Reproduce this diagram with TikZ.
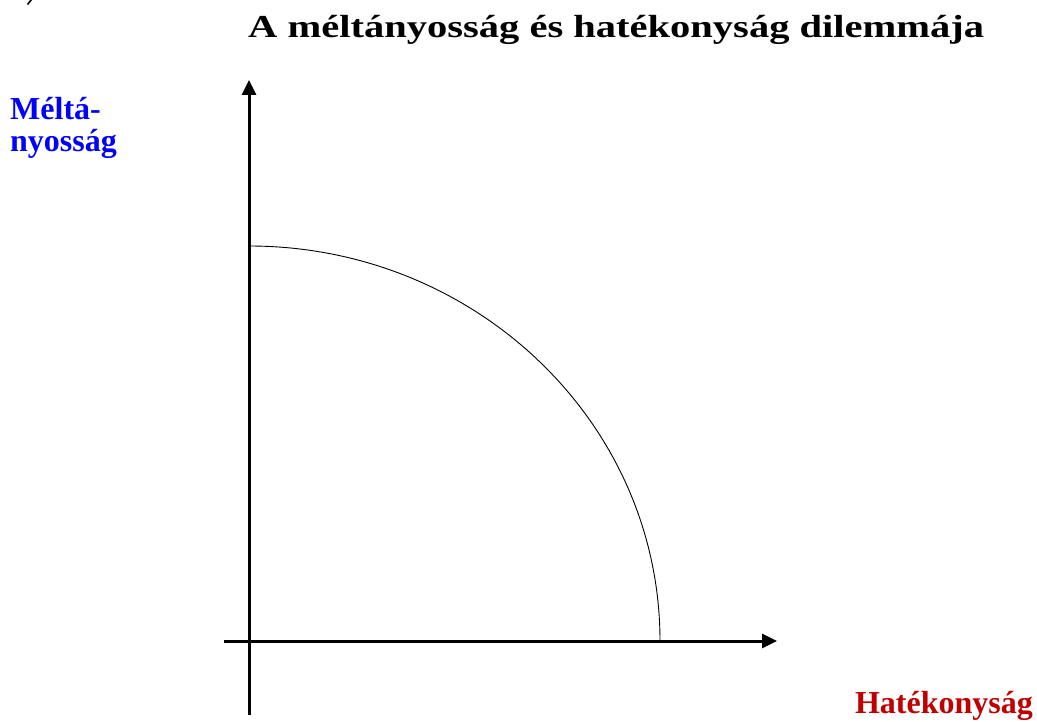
\documentclass[tikz,border=0pt]{standalone}
\usepackage{fontspec}
\setmainfont{Liberation Serif}
\usepackage{graphicx}
\usetikzlibrary{arrows.meta}
\definecolor{lblblue}{RGB}{0,0,255}
\definecolor{lblred}{RGB}{192,0,0}
\tikzset{
  axis/.style={line width=3pt, -{Triangle[length=15pt,width=14pt]}},
  curve/.style={line width=0.9pt},
  lbl/.style={inner sep=0pt, font=\fontsize{32}{36}\selectfont\bfseries},
}
\begin{document}
\begin{tikzpicture}[x=1pt,y=-1pt]
\useasboundingbox (0,0) rectangle (1037,722);
% fragment at top left
\draw[line width=1.6pt] (31.5,-0.5) -- (27.5,4.5);
% title
\node[lbl, anchor=base west] (title) at (248,38)
  {\resizebox{736pt}{\height}{A méltányosság és hatékonyság dilemmája}};
% axes
\coordinate (ybot) at (249,715);
\coordinate (ytop) at (249,80);
\coordinate (xleft) at (224,641);
\coordinate (xright) at (777,641);
\draw[axis] (ybot) -- (ytop);
\draw[axis] (xleft) -- (xright);
% curve
\coordinate (ctop) at (249,246);
\draw[curve] (ctop) arc[start angle=90, end angle=0, x radius=411pt, y radius=395pt] coordinate (cend);
% labels
\node[lbl, text=lblblue, anchor=base west] (ylab1) at (10,120) {Méltá-};
\node[lbl, text=lblblue, anchor=base west] (ylab2) at (10,152) {nyosság};
\node[lbl, text=lblred, anchor=base east] (xlab) at (1033,713) {Hatékonyság};
\end{tikzpicture}
\end{document}
